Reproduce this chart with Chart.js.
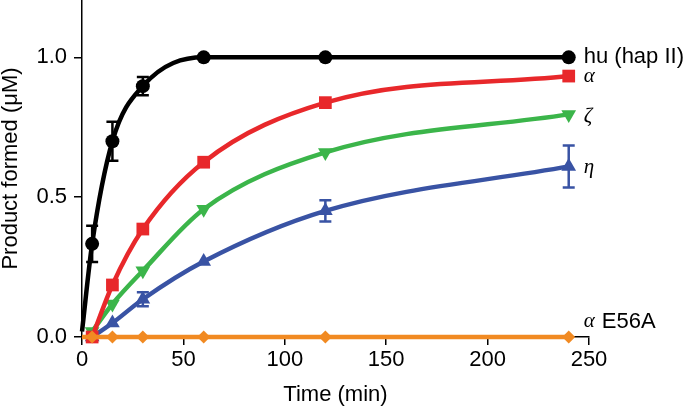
<!DOCTYPE html>
<html>
<head>
<meta charset="utf-8">
<script src="https://cdn.jsdelivr.net/npm/chart.js@4"></script>
<style>
  html, body { margin: 0; padding: 0; background: #fff; }
  #wrap { width: 685px; height: 408px; }
</style>
</head>
<body>
<div id="wrap"><canvas id="chart" width="685" height="408"></canvas></div>
<script>
// time points (min)
const times = [5, 15, 30, 60, 120, 240];
const huTimes = [0, 5, 15, 30, 60, 120, 240];

// product formed (uM)
const huVals = [0.02, 0.333, 0.70, 0.897, 1.0, 1.0, 1.0];
const huErr = [0, 0.065, 0.07, 0.033, 0, 0, 0];
const alphaVals = [0, 0.186, 0.386, 0.625, 0.838, 0.933];
const zetaVals = [0.02, 0.118, 0.237, 0.457, 0.66, 0.796];
const etaVals = [0, 0.05, 0.135, 0.27, 0.451, 0.61];
const etaErr = [0, 0, 0.025, 0, 0.038, 0.075];
const mutTimes = [0, 5, 15, 30, 60, 120, 240];
const mutVals = [0, 0, 0, 0, 0, 0, 0];

const xTicks = [0, 50, 100, 150, 200, 250];
const yTicks = [0, 0.5, 1.0];

const seriesLabels = ["hu (hap II)", "α", "ζ", "η", "α E56A"];

function pts(xs, ys) {
    return xs.map((x, i) => ({ x: x, y: ys[i] }));
}

const colors = ["#000000", "#e8282b", "#3bb54a", "#3953a4", "#f18a22"];
const sans = "'Liberation Sans', Arial, sans-serif";

// error bars, drawn through the scales
const errorBars = {
    id: "errorBars",
    afterDatasetsDraw(chart) {
        const ctx = chart.ctx;
        const xs = chart.scales.x, ys = chart.scales.y;
        const sets = [[huTimes, huVals, huErr, colors[0]], [times, etaVals, etaErr, colors[3]]];
        ctx.save();
        sets.forEach(([tx, v, e, c]) => {
            ctx.strokeStyle = c;
            ctx.lineWidth = 2.5;
            tx.forEach((t, i) => {
                if (!e[i]) return;
                const px = xs.getPixelForValue(t);
                const top = ys.getPixelForValue(v[i] + e[i]);
                const bot = ys.getPixelForValue(v[i] - e[i]);
                ctx.beginPath();
                ctx.moveTo(px, top); ctx.lineTo(px, bot);
                ctx.moveTo(px - 6, top); ctx.lineTo(px + 6, top);
                ctx.moveTo(px - 6, bot); ctx.lineTo(px + 6, bot);
                ctx.stroke();
            });
        });
        ctx.restore();
    }
};

// series names at the right end of each curve
const endLabels = {
    id: "endLabels",
    afterDatasetsDraw(chart) {
        const ctx = chart.ctx;
        const xs = chart.scales.x, ys = chart.scales.y;
        const x0 = xs.getPixelForValue(240) + 15;
        const rows = [
            [seriesLabels[0], ys.getPixelForValue(1.0), false],
            [seriesLabels[1], ys.getPixelForValue(0.93), true],
            [seriesLabels[2], ys.getPixelForValue(0.79), true],
            [seriesLabels[3], ys.getPixelForValue(0.605), true],
            [seriesLabels[4], ys.getPixelForValue(0.055), true]
        ];
        ctx.save();
        ctx.fillStyle = "#000";
        ctx.textBaseline = "middle";
        rows.forEach(([txt, y, greek]) => {
            if (!greek) {
                ctx.font = "22px " + sans;
                ctx.fillText(txt, x0, y);
                return;
            }
            ctx.font = "italic 21px 'Liberation Serif', serif";
            const g = txt.charAt(0);
            ctx.fillText(g, x0, y);
            const rest = txt.slice(1);
            if (rest) {
                const w = ctx.measureText(g).width;
                ctx.font = "22px " + sans;
                ctx.fillText(rest, x0 + w + 1, y);
            }
        });
        ctx.restore();
    }
};

function line(data, color, style, radius, rotation) {
    return {
        data: data,
        borderColor: color,
        backgroundColor: color,
        borderWidth: 4.5,
        pointStyle: style,
        pointRadius: radius,
        pointRotation: rotation || 0,
        pointBorderWidth: 0,
        pointBackgroundColor: color,
        cubicInterpolationMode: "monotone",
        clip: false
    };
}

const tickFont = { family: sans, size: 22 };
const titleFont = { family: sans, size: 22, lineHeight: 1 };

new Chart(document.getElementById("chart"), {
    type: "line",
    data: {
        datasets: [
            line(pts(mutTimes, mutVals), colors[4], "rectRot", mutTimes.map(t => t === 0 ? 0 : 6.5)),
            line(pts(huTimes, huVals), colors[0], "circle", huTimes.map(t => t === 0 ? 0 : 7)),
            line(pts(times, alphaVals), colors[1], "rect", 9),
            line(pts(times, zetaVals), colors[2], "triangle", 8.5, 180),
            line(pts(times, etaVals), colors[3], "triangle", 8.5)
        ]
    },
    options: {
        responsive: false,
        animation: false,
        // point size would otherwise push the plot area in
        layout: { autoPadding: false, padding: { top: 0, right: 96, left: 0, bottom: 0 } },
        plugins: {
            legend: { display: false },
            tooltip: { enabled: false }
        },
        scales: {
            x: {
                type: "linear",
                min: 0,
                max: 250,
                afterBuildTicks: s => { s.ticks = xTicks.map(v => ({ value: v })); },
                afterFit: s => { s.height = 71; s.paddingLeft = 0; s.paddingRight = 0; },
                grid: { drawOnChartArea: false, color: "#000", lineWidth: 1.5, tickLength: 8 },
                border: { color: "#000", width: 1.5 },
                ticks: { color: "#000", font: tickFont, padding: 2, maxRotation: 0 },
                title: {
                    display: true,
                    text: "Time (min)",
                    color: "#000",
                    font: titleFont,
                    padding: { top: 0, bottom: 2 }
                }
            },
            y: {
                min: 0,
                max: 1.205,
                afterBuildTicks: s => { s.ticks = yTicks.map(v => ({ value: v })); },
                afterFit: s => { s.width = 82; s.paddingTop = 0; s.paddingBottom = 0; },
                grid: { drawOnChartArea: false, color: "#000", lineWidth: 1.5, tickLength: 8 },
                border: { color: "#000", width: 1.5 },
                ticks: { color: "#000", font: tickFont, padding: 7, callback: v => v.toFixed(1) },
                title: {
                    display: true,
                    text: "Product formed (μM)",
                    color: "#000",
                    font: titleFont,
                    padding: { top: 0, bottom: 0 }
                }
            }
        }
    },
    plugins: [errorBars, endLabels]
});
</script>
</body>
</html>
